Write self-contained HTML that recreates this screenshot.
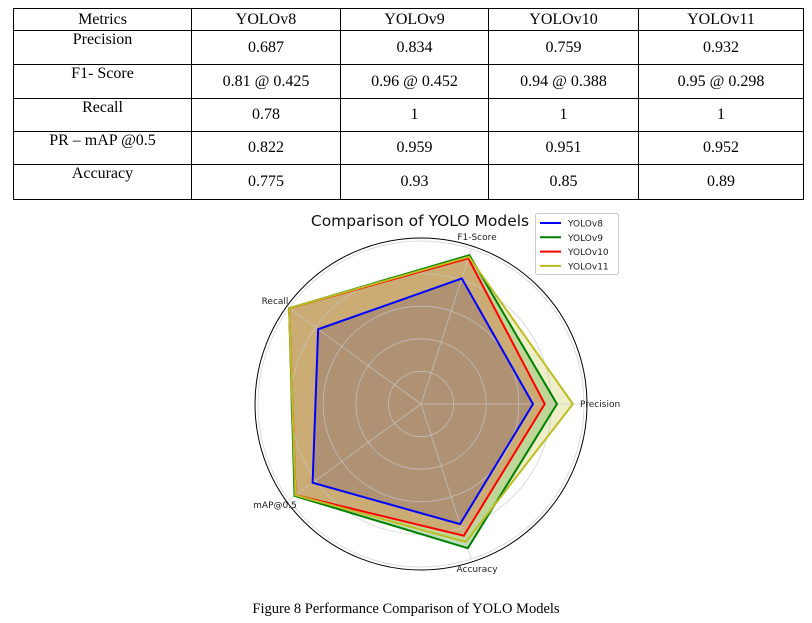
<!DOCTYPE html>
<html><head><meta charset="utf-8"><style>
body{margin:0;background:#fff;width:812px;height:623px;overflow:hidden;position:relative;font-family:"Liberation Serif",serif}
table{position:absolute;left:13px;top:8px;border-collapse:collapse;font-size:16px;color:#000}
td{border:1px solid #000;text-align:center;padding:0;}
.cap{position:absolute;left:0;width:812px;top:601px;text-align:center;font-size:14.5px}
svg{position:absolute;left:0;top:0}
</style></head><body>
<table>
<tr style="height:22px"><td style="width:177px">Metrics</td><td style="width:148px">YOLOv8</td><td style="width:147px">YOLOv9</td><td style="width:149px">YOLOv10</td><td style="width:164px">YOLOv11</td></tr>
<tr style="height:34px"><td style="vertical-align:top">Precision</td><td>0.687</td><td>0.834</td><td>0.759</td><td>0.932</td></tr>
<tr style="height:34px"><td style="vertical-align:top">F1- Score</td><td>0.81 @ 0.425</td><td>0.96 @ 0.452</td><td>0.94 @ 0.388</td><td>0.95 @ 0.298</td></tr>
<tr style="height:33px"><td style="vertical-align:top">Recall</td><td>0.78</td><td>1</td><td>1</td><td>1</td></tr>
<tr style="height:33px"><td style="vertical-align:top">PR – mAP @0.5</td><td>0.822</td><td>0.959</td><td>0.951</td><td>0.952</td></tr>
<tr style="height:35px"><td style="vertical-align:top">Accuracy</td><td>0.775</td><td>0.93</td><td>0.85</td><td>0.89</td></tr>
</table>
<svg id="s" width="812" height="623" xmlns="http://www.w3.org/2000/svg" font-family="DejaVu Sans, sans-serif"></svg>
<div class="cap">Figure 8 Performance Comparison of YOLO Models</div>
<script>
var cx=421,cy=404,R=163,s='';
var ang=[0,72,144,216,288];
function pt(v,i){var a=ang[i]*Math.PI/180;return [cx+R*v*Math.cos(a),cy-R*v*Math.sin(a)];}
var D=[['#0000ff',[.687,.81,.78,.822,.775]],['#008000',[.834,.96,1,.959,.93]],['#ff0000',[.759,.94,1,.951,.85]],['#bcbd22',[.932,.95,1,.952,.89]]];
D.forEach(function(d){var pts=d[1].map(function(v,i){return pt(v,i).join(',')}).join(' ');
s+='<polygon points="'+pts+'" fill="'+d[0]+'" fill-opacity="0.25" stroke="none"/>';});
[0.2,0.4,0.6,0.8,1.0].forEach(function(g){s+='<circle cx="'+cx+'" cy="'+cy+'" r="'+R*g+'" fill="none" stroke="#c8c8c8" stroke-opacity="0.8" stroke-width="0.8"/>';});
for(var i=0;i<5;i++){var p=pt(1,i);s+='<line x1="'+cx+'" y1="'+cy+'" x2="'+p[0]+'" y2="'+p[1]+'" stroke="#c8c8c8" stroke-opacity="0.8" stroke-width="0.8"/>';}
s+='<circle cx="'+cx+'" cy="'+cy+'" r="166" fill="none" stroke="#000" stroke-width="1"/>';
D.forEach(function(d){var pts=d[1].map(function(v,i){return pt(v,i).join(',')}).join(' ');
s+='<polygon points="'+pts+'" fill="none" stroke="'+d[0]+'" stroke-width="2"/>';});
s+='<text x="420" y="226" font-size="15.5" text-anchor="middle" fill="#111">Comparison of YOLO Models</text>';
s+='<text x="477" y="240" font-size="9" text-anchor="middle" fill="#222">F1-Score</text>';
s+='<text x="275" y="304" font-size="9" text-anchor="middle" fill="#222">Recall</text>';
s+='<text x="580" y="407" font-size="9" fill="#222">Precision</text>';
s+='<text x="275" y="508" font-size="9" text-anchor="middle" fill="#222">mAP@0.5</text>';
s+='<text x="477" y="572" font-size="9" text-anchor="middle" fill="#222">Accuracy</text>';
s+='<rect x="535.5" y="213.5" width="83" height="61" rx="2" fill="#fff" fill-opacity="0.85" stroke="#ccc"/>';
['YOLOv8','YOLOv9','YOLOv10','YOLOv11'].forEach(function(n,k){var y=223+k*14.3;
s+='<line x1="540" x2="561" y1="'+y+'" y2="'+y+'" stroke="'+D[k][0]+'" stroke-width="2"/>';
s+='<text x="568" y="'+(y+3.5)+'" font-size="9" fill="#222">'+n+'</text>';});
document.getElementById('s').innerHTML=s;
</script>
</body></html>
